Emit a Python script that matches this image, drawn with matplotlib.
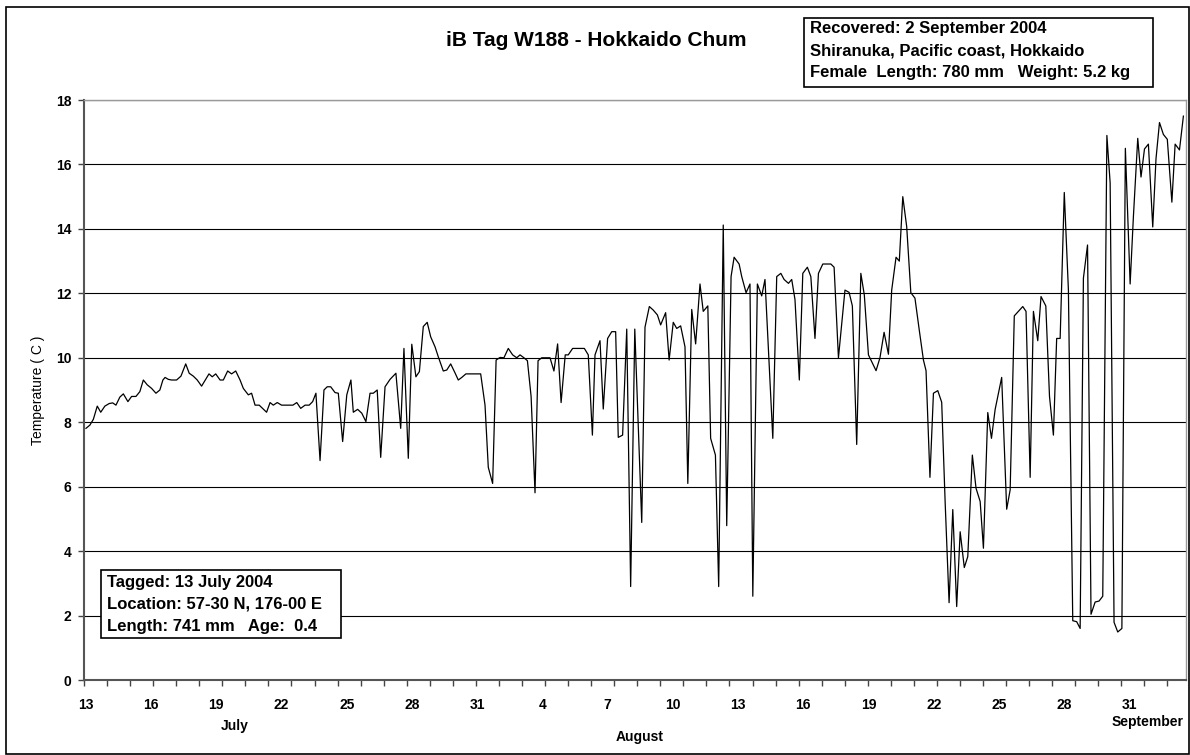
import numpy as np
import matplotlib
matplotlib.use("Agg")
import matplotlib.pyplot as plt
from matplotlib.patches import Rectangle

plt.rcParams['font.family'] = ['Liberation Sans', 'DejaVu Sans']
plt.rcParams['font.weight'] = 'bold'

# days after 13 July (on the chart's own label spacing) and temperature (C)
days = [0.00, 0.18, 0.34, 0.52, 0.68, 0.87, 1.07, 1.23, 1.38, 1.56, 1.72, 1.93, 2.10, 2.30, 2.48,
        2.64, 2.82, 3.02, 3.22, 3.40, 3.54, 3.64, 3.79, 3.94, 4.17, 4.37, 4.59, 4.75, 4.94, 5.12,
        5.32, 5.49, 5.66, 5.81, 5.97, 6.17, 6.32, 6.52, 6.70, 6.89, 7.09, 7.24, 7.47, 7.62, 7.78,
        7.97, 8.14, 8.31, 8.47, 8.62, 8.80, 9.00, 9.18, 9.36, 9.52, 9.70, 9.88, 10.08, 10.27, 10.43,
        10.58, 10.77, 10.95, 11.10, 11.26, 11.46, 11.61, 11.81, 12.00, 12.19, 12.30, 12.50, 12.69, 12.88, 13.07,
        13.22, 13.40, 13.56, 13.76, 13.99, 14.26, 14.48, 14.63, 14.83, 14.99, 15.18, 15.34, 15.52, 15.70, 15.86,
        16.06, 16.21, 16.44, 16.60, 16.78, 16.98, 17.13, 17.29, 17.48, 17.67, 17.85, 18.01, 18.16, 18.36, 18.51,
        18.71, 18.87, 19.05, 19.23, 19.43, 19.63, 19.82, 19.97, 20.15, 20.31, 20.48, 20.66, 20.80, 20.97, 21.17,
        21.35, 21.53, 21.70, 21.86, 22.05, 22.19, 22.39, 22.57, 22.75, 22.93, 23.11, 23.30, 23.42, 23.65, 23.80,
        24.00, 24.19, 24.37, 24.49, 24.69, 24.88, 25.06, 25.25, 25.57, 25.72, 25.92, 26.10, 26.29, 26.44, 26.67,
        26.83, 27.02, 27.18, 27.36, 27.56, 27.69, 27.87, 28.05, 28.25, 28.40, 28.61, 28.74, 28.96, 29.11, 29.32,
        29.48, 29.68, 29.82, 30.05, 30.17, 30.37, 30.55, 30.68, 30.89, 31.09, 31.24, 31.60, 31.78, 31.97, 32.12,
        32.32, 32.47, 32.62, 32.82, 32.98, 33.19, 33.35, 33.54, 33.70, 33.90, 34.08, 34.27, 34.42, 34.62, 34.92,
        35.11, 35.26, 35.46, 35.65, 35.81, 36.00, 36.17, 36.35, 36.53, 36.72, 36.92, 37.07, 37.27, 37.42, 37.58,
        37.76, 37.95, 38.14, 38.33, 38.53, 38.65, 38.83, 38.99, 39.19, 39.37, 39.53, 39.71, 39.88, 40.06, 40.22,
        40.41, 40.57, 40.78, 40.95, 41.14, 41.29, 41.49, 41.66, 41.83, 42.13, 42.36, 42.52, 42.71, 42.90, 43.10,
        43.25, 43.44, 43.59, 43.79, 43.94, 44.16, 44.33, 44.51, 44.66, 44.82, 45.01, 45.20, 45.40, 45.58, 45.74,
        45.89, 46.08, 46.24, 46.43, 46.61, 46.78, 46.97, 47.12, 47.30, 47.47, 47.66, 47.82, 48.04, 48.19, 48.39,
        48.54, 48.70, 48.88, 49.08, 49.23, 49.39, 49.57, 49.75, 49.96, 50.11, 50.31, 50.49]

temp = [7.81, 7.91, 8.09, 8.50, 8.31, 8.50, 8.58, 8.60, 8.53, 8.78, 8.88, 8.64, 8.80, 8.80, 8.95,
        9.31, 9.16, 9.05, 8.90, 9.00, 9.31, 9.39, 9.33, 9.31, 9.31, 9.43, 9.81, 9.52, 9.43, 9.31,
        9.12, 9.31, 9.50, 9.41, 9.50, 9.31, 9.31, 9.59, 9.50, 9.59, 9.31, 9.05, 8.85, 8.90, 8.53,
        8.53, 8.42, 8.31, 8.61, 8.53, 8.61, 8.53, 8.53, 8.53, 8.53, 8.61, 8.43, 8.53, 8.53, 8.64,
        8.90, 6.81, 9.00, 9.10, 9.10, 8.92, 8.90, 7.40, 8.85, 9.31, 8.31, 8.40, 8.28, 8.02, 8.90,
        8.90, 9.00, 6.91, 9.10, 9.33, 9.52, 7.81, 10.29, 6.88, 10.42, 9.41, 9.57, 10.97, 11.10, 10.65,
        10.34, 10.03, 9.59, 9.62, 9.81, 9.53, 9.31, 9.39, 9.50, 9.50, 9.50, 9.50, 9.50, 8.53, 6.60,
        6.10, 9.93, 10.01, 10.00, 10.29, 10.09, 10.00, 10.09, 10.00, 9.91, 8.80, 5.81, 9.91, 10.00, 10.00,
        10.00, 9.59, 10.43, 8.61, 10.09, 10.09, 10.29, 10.29, 10.29, 10.29, 10.09, 7.60, 10.09, 10.53, 8.41,
        10.60, 10.81, 10.81, 7.53, 7.60, 10.89, 2.90, 10.89, 4.89, 10.95, 11.59, 11.48, 11.33, 11.02, 11.40,
        9.93, 11.10, 10.91, 10.99, 10.34, 6.10, 11.50, 10.43, 12.29, 11.44, 11.61, 7.50, 6.98, 2.90, 14.12,
        4.79, 12.52, 13.12, 12.91, 12.52, 12.02, 12.29, 2.60, 12.29, 11.92, 12.43, 7.50, 12.52, 12.62, 12.43,
        12.31, 12.43, 11.81, 9.31, 12.62, 12.81, 12.52, 10.60, 12.62, 12.91, 12.91, 12.91, 12.81, 10.00, 12.10,
        12.03, 11.61, 7.31, 12.62, 11.95, 10.09, 9.85, 9.60, 10.00, 10.79, 10.11, 12.10, 13.12, 13.00, 15.00,
        14.07, 12.02, 11.85, 10.90, 9.93, 9.60, 6.29, 8.90, 8.98, 8.62, 5.50, 2.40, 5.29, 2.28, 4.60,
        3.49, 3.83, 6.98, 5.95, 5.54, 4.09, 8.30, 7.50, 8.40, 9.39, 5.30, 5.90, 11.30, 11.44, 11.59,
        11.44, 6.29, 11.44, 10.53, 11.90, 11.61, 8.80, 7.60, 10.60, 10.60, 15.13, 12.10, 1.84, 1.81, 1.60,
        12.47, 13.50, 2.04, 2.42, 2.45, 2.60, 16.90, 15.43, 1.79, 1.49, 1.60, 16.50, 12.29, 14.38, 16.81,
        15.61, 16.48, 16.63, 14.06, 16.18, 17.30, 16.93, 16.78, 14.83, 16.63, 16.45, 17.50]

label_days = [0, 3, 6, 9, 12, 15, 18, 21, 24, 27, 30, 33, 36, 39, 42, 45, 48]
label_text = ['13', '16', '19', '22', '25', '28', '31', '4', '7', '10',
              '13', '16', '19', '22', '25', '28', '31']
y_ticks = list(range(0, 19, 2))

tagged_lines = ["Tagged: 13 July 2004",
                "Location: 57-30 N, 176-00 E",
                "Length: 741 mm   Age:  0.4"]
recovered_lines = ["Recovered: 2 September 2004",
                   "Shiranuka, Pacific coast, Hokkaido",
                   "Female  Length: 780 mm   Weight: 5.2 kg"]

W, H = 1190, 755
fig = plt.figure(figsize=(W / 100, H / 100), dpi=100)


def fx(px):
    return px / W


def fy(py):
    return 1 - py / H


ax = fig.add_axes([fx(84), fy(680), fx(1186) - fx(84), fy(100) - fy(680)])
ax.plot(days, temp, color='black', lw=0.9, zorder=3)

ax.set_xlim(-0.09, 50.61)
ax.set_ylim(0, 18)

# tick marks every ~1.06 units, labels every 3 units (independent, like the original)
ax.set_xticks(np.arange(-0.09, 50.0, 1.0606))
ax.set_xticklabels([])
ax.set_xticks(label_days, label_text, minor=True)
ax.tick_params(axis='x', which='major', direction='out', length=4, width=1, color='#444444')
ax.tick_params(axis='x', which='minor', length=0, pad=13, labelsize=10)
ax.set_yticks(y_ticks)
ax.tick_params(axis='y', direction='out', length=4, width=1, color='#444444', pad=5, labelsize=10)

ax.grid(axis='y', color='black', lw=0.8)
ax.set_axisbelow(True)
for side in ['left', 'bottom']:
    ax.spines[side].set_color('#555555')
    ax.spines[side].set_linewidth(1.5)
for side in ['top', 'right']:
    ax.spines[side].set_color('#999999')
    ax.spines[side].set_linewidth(1.0)

ax.set_ylabel('Temperature ( C )', fontsize=10, labelpad=8)

# month names under the day labels
fig.text(fx(235), fy(726), 'July', ha='center', va='center', fontsize=10)
fig.text(fx(640), fy(737), 'August', ha='center', va='center', fontsize=10)
fig.text(fx(1184), fy(722), 'September', ha='right', va='center', fontsize=10)

fig.text(fx(596), fy(40), 'iB Tag W188 - Hokkaido Chum', ha='center', va='center', fontsize=15)

# info boxes
fig.patches.append(Rectangle((fx(101), fy(638)), fx(341) - fx(101), fy(570) - fy(638),
                             transform=fig.transFigure, fill=True, fc='white', ec='black', lw=1.2, zorder=5))
for i, line in enumerate(tagged_lines):
    fig.text(fx(107), fy(582 + 22 * i), line, ha='left', va='center', fontsize=12, zorder=6)

fig.patches.append(Rectangle((fx(804), fy(87)), fx(1153) - fx(804), fy(18) - fy(87),
                             transform=fig.transFigure, fill=True, fc='white', ec='black', lw=1.2, zorder=5))
for i, line in enumerate(recovered_lines):
    fig.text(fx(810), fy(29 + 22 * i), line, ha='left', va='center', fontsize=12, zorder=6)

# outer frame
fig.patches.append(Rectangle((fx(6), fy(754)), fx(1189) - fx(6), fy(7) - fy(754),
                             transform=fig.transFigure, fill=False, ec='black', lw=1.2))

fig.savefig('out.png', dpi=100)
